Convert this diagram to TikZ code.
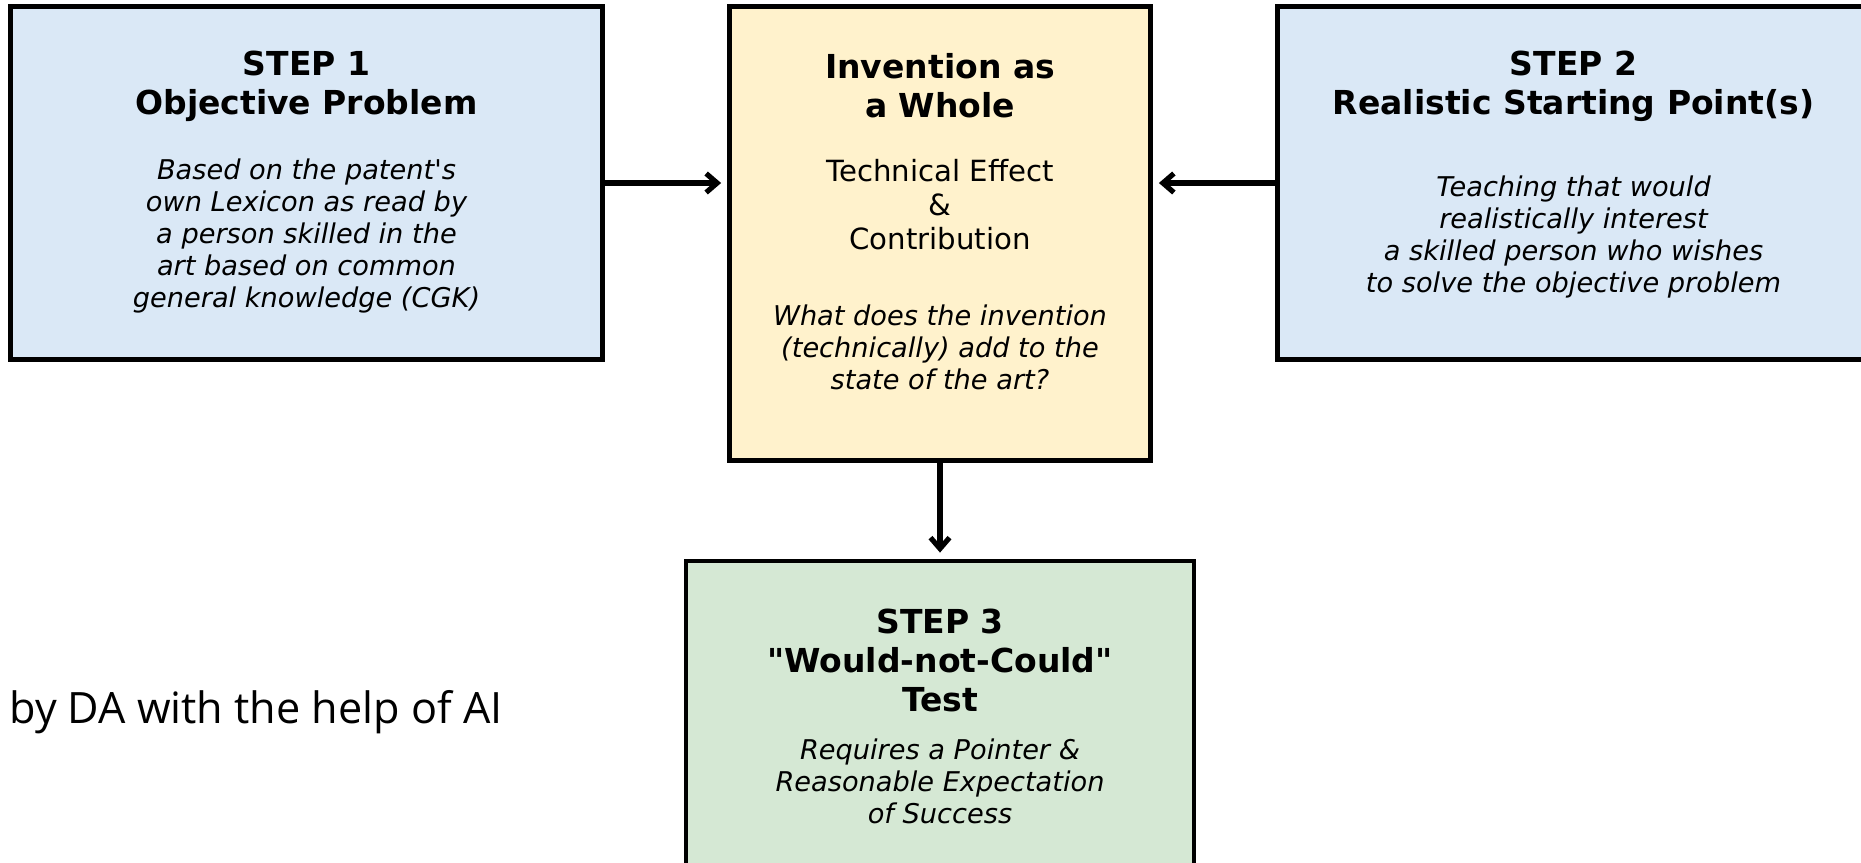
\documentclass[tikz,border=0pt]{standalone}
\usepackage{fontspec}
\setmainfont{DejaVu Sans}
\newfontfamily\creditfont{Open Sans}
\usepackage{xcolor}
\usetikzlibrary{arrows.meta,positioning}
\definecolor{stepblue}{HTML}{DAE8F6}
\definecolor{wholeyellow}{HTML}{FFF2CC}
\definecolor{testgreen}{HTML}{D5E8D4}

\begin{document}
\begin{tikzpicture}[x=0.5pt,y=-0.5pt,
    box/.style={draw=black,line width=2.4pt,inner sep=0pt},
    ttl/.style={align=center,inner sep=0pt,font=\fontsize{16.5}{19.5}\selectfont\bfseries},
    dsc/.style={align=center,inner sep=0pt,font=\fontsize{13.6}{16}\selectfont\itshape},
    txt/.style={align=center,inner sep=0pt,font=\fontsize{14.6}{17}\selectfont}]
    \useasboundingbox (0,0) rectangle (1861,862);
    \clip (0,0) rectangle (1861,862);

    % the four boxes
    \node[box,fill=stepblue,minimum width=296pt,minimum height=176.5pt]    (s1)  at (306.5,183) {};
    \node[box,fill=wholeyellow,minimum width=210.5pt,minimum height=227pt] (inv) at (940,233.5) {};
    \node[box,fill=stepblue,minimum width=296pt,minimum height=176.5pt]    (s2)  at (1573.5,183) {};
    \node[box,fill=testgreen,minimum width=254pt,minimum height=154pt]     (s3)  at (940,715) {};

    % texts
    \node[ttl] (s1title) at (306.5,86) {STEP 1\\Objective Problem};
    \node[dsc] (s1desc)  at (306.5,236) {Based on the patent\textquotesingle s\\own Lexicon as read by\\a person skilled in the\\art based on common\\general knowledge (CGK)};

    \node[ttl] (invtitle) at (940,86) {Invention as\\a Whole};
    \node[txt] (invtext)  at (940,205) {Technical Effect\\\&\\Contribution};
    \node[dsc] (invdesc)  at (940,347) {What does the invention\\(technically) add to the\\state of the art?};

    \node[ttl] (s2title) at (1573.5,86) {STEP 2\\Realistic Starting Point(s)};
    \node[dsc] (s2desc)  at (1573.5,236.5) {Teaching that would\\realistically interest\\a skilled person who wishes\\to solve the objective problem};

    \node[ttl] (s3title) at (940,660) {STEP 3\\\textquotedbl Would-not-Could\textquotedbl\\Test};
    \node[dsc] (s3desc)  at (940,781) {Requires a Pointer \&\\Reasonable Expectation\\of Success};

    \node[anchor=west,inner sep=0pt,font=\creditfont\fontsize{21.6}{25}\selectfont] (credit) at (9,712) {by DA with the help of AI};

    \begin{scope}[-{Straight Barb[length=5.5pt,width=9.5pt]},line width=2.6pt,shorten >=3pt]
        \draw (s1.east) -- (s1.east -| inv.west);
        \draw (s2.west) -- (s2.west -| inv.east);
        \draw (inv.south) -- (s3.north);
    \end{scope}
\end{tikzpicture}
\end{document}
